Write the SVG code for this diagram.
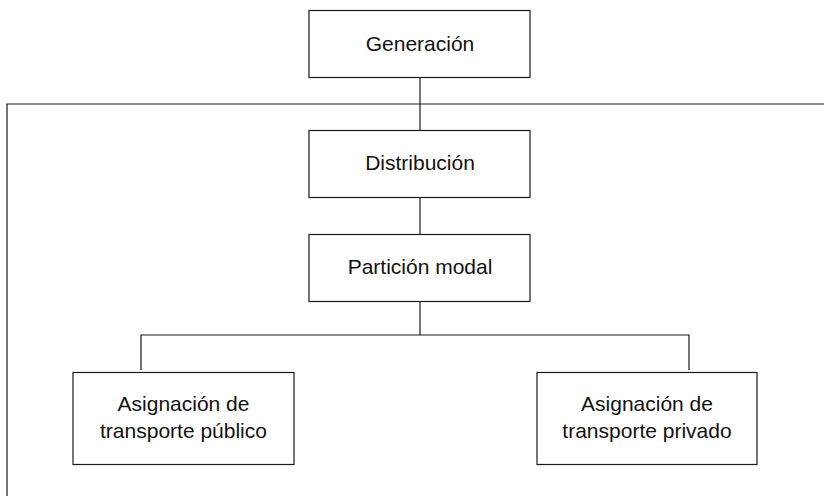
<svg xmlns="http://www.w3.org/2000/svg" width="824" height="496" viewBox="0 0 824 496">
<style>
.box{fill:#fff;stroke:#1a1a1a;stroke-width:1.2}
.ln{fill:none;stroke:#1a1a1a;stroke-width:1.2}
text{font-family:"Liberation Sans",Arial,sans-serif;font-size:21px;fill:#111;text-anchor:middle}
</style>
<rect width="824" height="496" fill="#fff"/>
<g id="connectors">
<path class="ln" d="M7,496 V104 H824"/>
<path class="ln" d="M420,77 V130"/>
<path class="ln" d="M420,197 V234"/>
<path class="ln" d="M420,302 V335"/>
<path class="ln" d="M141,370 V335 H689 V370"/>
</g>
<g id="generacion">
<rect class="box" x="309" y="10.5" width="221" height="67"/>
<text x="420" y="51">Generación</text>
</g>
<g id="distribucion">
<rect class="box" x="309" y="130.5" width="221" height="67"/>
<text x="420" y="170">Distribución</text>
</g>
<g id="particion">
<rect class="box" x="309" y="234.5" width="221" height="67"/>
<text x="420" y="274">Partición modal</text>
</g>
<g id="asig-publico">
<rect class="box" x="73" y="372.5" width="221" height="92"/>
<text x="183.5" y="411">Asignación de</text>
<text x="183.5" y="438">transporte público</text>
</g>
<g id="asig-privado">
<rect class="box" x="537" y="372.5" width="220" height="92"/>
<text x="647" y="411">Asignación de</text>
<text x="647" y="438">transporte privado</text>
</g>
</svg>
